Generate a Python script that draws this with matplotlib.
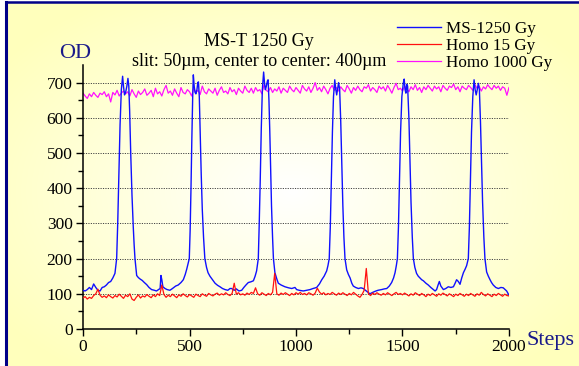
"""
MS-T 1250 Gy optical density scan across the slits,
compared with the two homogeneous irradiations
"""
import numpy as np
import matplotlib

matplotlib.use("Agg")
from matplotlib import pyplot as plt
from matplotlib.lines import Line2D

plt.rcParams["font.family"] = ["Liberation Serif", "DejaVu Serif"]

W, H = 579, 366
NAVY = "#1a1a8a"

# MS-1250 Gy: steps and OD (uneven spacing around the peaks)
MS_STEPS = [
    0, 10, 20, 30, 40, 50, 60, 70, 80, 90, 100, 110, 120, 130, 140, 150, 158,
    163, 168, 174, 180, 186, 190, 195, 200, 206, 211, 215, 219, 224, 230, 236,
    240, 244, 248, 252, 260, 268, 278, 288, 299, 310, 322, 335, 345, 355, 362,
    366, 370, 375, 385, 395, 408, 420, 435, 447, 460, 471, 480, 487, 493,
    499, 503, 507, 511, 515, 518, 522, 526, 530, 535, 539, 542, 546, 550, 555,
    560, 566, 572, 580, 587, 596, 608, 620, 632, 643, 655, 667, 680, 690, 698,
    710, 720, 732, 745, 755, 765, 776, 788, 800, 808, 815,
    823, 827, 832, 837, 842, 848, 852, 856, 860, 866, 869, 873, 877, 881, 885,
    890, 894, 901, 910, 917, 930, 948, 965, 980, 995, 1003, 1015, 1034, 1050,
    1066, 1080, 1097, 1110, 1121, 1132, 1144, 1150,
    1156, 1161, 1166, 1171, 1176, 1182, 1187, 1191, 1195, 1200, 1205, 1210,
    1215, 1220, 1225, 1230, 1238, 1246, 1254, 1262, 1269, 1280, 1293, 1305,
    1316, 1330, 1347, 1360, 1371, 1385, 1402, 1415, 1426, 1438, 1449, 1458,
    1465, 1471,
    1476, 1481, 1486, 1491, 1497, 1504, 1508, 1512, 1516, 1520, 1524, 1530,
    1535, 1540, 1546, 1551, 1558, 1566, 1574, 1582, 1590, 1598, 1610, 1621,
    1633, 1645, 1653, 1660, 1667, 1673, 1680, 1692, 1703, 1715, 1727, 1739,
    1747, 1754, 1762, 1770, 1778, 1786, 1794, 1801, 1805,
    1809, 1814, 1819, 1824, 1830, 1836, 1841, 1846, 1851, 1856, 1861, 1866,
    1871, 1876, 1882, 1887, 1895, 1903, 1911, 1918, 1926, 1938, 1950, 1962,
    1973, 1982, 1989, 1996, 2000,
]
MS_OD = [
    110, 108, 112, 118, 112, 128, 118, 110, 108, 118, 120, 125, 132, 135, 145,
    158, 200, 300, 430, 580, 680, 718, 690, 665, 672, 690, 712, 690, 620, 500,
    380, 290, 240, 200, 175, 152, 146, 142, 138, 132, 126, 118, 112, 110, 108,
    112, 115, 152, 140, 120, 115, 112, 110, 115, 122, 125, 132, 140, 155, 170,
    185,
    200, 280, 400, 540, 660, 722, 690, 672, 668, 680, 700, 702, 660, 560, 440,
    340, 260, 200, 175, 160, 150, 140, 130, 124, 120, 115, 112, 110, 115, 115,
    110, 114, 108, 110, 118, 125, 132, 134, 137, 150, 165,
    200, 290, 420, 570, 680, 730, 700, 680, 688, 705, 708, 650, 560, 450, 350,
    260, 200, 160, 142, 130, 125, 120, 117, 115, 118, 112, 110, 108, 110, 112,
    115, 118, 128, 140, 150, 165, 180,
    200, 290, 420, 560, 660, 708, 680, 665, 680, 700, 680, 590, 470, 350, 260,
    200, 168, 155, 145, 130, 122, 118, 115, 117, 115, 108, 100, 104, 107, 110,
    112, 114, 115, 122, 132, 145, 160, 180,
    200, 290, 420, 560, 660, 700, 710, 680, 670, 695, 690, 600, 480, 360, 260,
    200, 175, 158, 150, 145, 140, 137, 130, 125, 118, 112, 108, 112, 125, 135,
    122, 112, 115, 120, 118, 120, 130, 140, 135, 127, 145, 160, 170, 180, 190,
    200, 290, 420, 560, 660, 708, 680, 665, 680, 698, 680, 590, 470, 360, 260,
    200, 162, 150, 140, 132, 125, 118, 115, 118, 117, 112, 108, 100, 96,
]

# homogeneous films, one reading every 10 steps from 0 to 2000
HOMO_STEPS = list(range(0, 2001, 10))
HOMO15_OD = [
    88, 92, 85, 90, 87, 95, 100, 113, 96, 90, 94,
    89, 97, 92, 88, 95, 91, 99, 93, 87, 96,
    92, 100, 85, 81, 90, 97, 88, 94, 91, 98,
    93, 89, 97, 92, 100, 95, 125, 98, 90, 96,
    92, 99, 94, 89, 97, 93, 100, 95, 91, 98,
    94, 90, 99, 95, 92, 100, 96, 93, 101, 97,
    94, 99, 102, 96, 100, 97, 103, 98, 95, 101,
    130, 99, 103, 97, 100, 96, 102, 98, 104, 101,
    117, 100, 96, 103, 99, 95, 101, 97, 104, 158,
    100, 96, 102, 98, 103, 99, 95, 101, 97, 103,
    99, 104, 98, 101, 97, 103, 100, 96, 102, 116,
    105, 99, 103, 97, 101, 98, 104, 100, 96, 102,
    98, 103, 99, 95, 101, 97, 104, 99, 94, 90,
    98, 110, 172, 100, 95, 102, 98, 103, 99, 96,
    101, 97, 103, 99, 95, 100, 104, 98, 101, 97,
    102, 98, 94, 100, 96, 103, 99, 95, 101, 97,
    92, 99, 95, 101, 97, 93, 100, 96, 102, 98,
    94, 100, 96, 92, 99, 95, 101, 97, 93, 99,
    95, 101, 97, 93, 100, 96, 104, 98, 94, 100,
    96, 92, 99, 95, 101, 97, 93, 99, 95, 94,
]
HOMO1000_OD = [
    670, 662, 655, 668, 660, 672, 664, 658, 670, 666, 674,
    660, 668, 645, 672, 665, 678, 662, 670, 676, 668,
    674, 662, 680, 668, 658, 676, 666, 672, 682, 664,
    670, 678, 660, 684, 668, 674, 662, 680, 692, 670,
    676, 664, 682, 670, 660, 686, 672, 668, 680, 674,
    662, 684, 672, 678, 666, 690, 674, 668, 682, 676,
    670, 684, 664, 678, 688, 672, 676, 668, 686, 674,
    680, 666, 684, 676, 670, 690, 678, 672, 684, 670,
    686, 676, 680, 668, 694, 678, 674, 686, 672, 682,
    676, 688, 670, 684, 678, 672, 690, 680, 674, 686,
    678, 670, 692, 682, 676, 688, 672, 684, 700, 678,
    686, 674, 690, 680, 668, 684, 692, 678, 686, 676,
    688, 680, 674, 692, 682, 670, 686, 678, 690, 680,
    674, 688, 684, 694, 676, 686, 680, 672, 690, 682,
    688, 676, 692, 682, 670, 686, 698, 680, 684, 676,
    690, 682, 674, 688, 680, 694, 678, 686, 672, 688,
    680, 692, 684, 676, 690, 682, 688, 674, 692, 684,
    678, 690, 686, 696, 680, 688, 674, 690, 684, 680,
    692, 686, 678, 694, 684, 690, 676, 688, 682, 694,
    686, 680, 692, 684, 690, 678, 688, 684, 664, 686,
]

X_TICKS = [0, 500, 1000, 1500, 2000]
Y_TICKS = [0, 100, 200, 300, 400, 500, 600, 700]


def draw_background(fig):
    """pale yellow panel, whitening towards the middle, with a navy frame"""
    bg = fig.add_axes([7 / W, 0, 1 - 7 / W, 1 - 2 / H])
    yy, xx = np.mgrid[0:1:200j, 0:1:300j]
    rad = np.clip(np.hypot((xx - 0.5) / 0.62, (yy - 0.52) / 0.62), 0, 1)
    img = np.ones((200, 300, 3))
    img[..., 2] = 1 - 0.26 * rad
    bg.imshow(img, aspect="auto", extent=[0, 1, 0, 1], zorder=0)
    bg.axis("off")
    fig.add_artist(Line2D([6 / W, 6 / W], [0, 1 - 1.5 / H], color="#000088",
                          lw=2.2, transform=fig.transFigure))
    fig.add_artist(Line2D([6 / W, 1], [1 - 1.5 / H, 1 - 1.5 / H],
                          color="#000088", lw=1.8, transform=fig.transFigure))


def main():
    fig = plt.figure(figsize=(W / 100, H / 100), dpi=100)
    draw_background(fig)

    ax = fig.add_axes([83 / W, 1 - 329 / H, 426 / W, 264 / H])
    ax.set_facecolor("none")
    ax.plot(MS_STEPS, MS_OD, color="#1010ff", lw=1.0, label="MS-1250 Gy",
            zorder=3)
    ax.plot(HOMO_STEPS, HOMO15_OD, color="#ff1010", lw=0.9,
            label="Homo 15 Gy", zorder=4)
    ax.plot(HOMO_STEPS, HOMO1000_OD, color="#ff10ff", lw=0.9,
            label="Homo 1000 Gy", zorder=2)

    ax.set_xlim(0, 2000)
    ax.set_ylim(0, 750)
    ax.set_xticks(X_TICKS)
    ax.set_yticks(Y_TICKS)
    ax.set_xticks([250, 750, 1250, 1750], minor=True)
    ax.set_yticks([50, 150, 250, 350, 450, 550, 650], minor=True)
    ax.tick_params(which="major", direction="out", length=5, width=1,
                   labelsize=12.5, colors="black", pad=2.5)
    ax.tick_params(which="minor", direction="out", length=3.5, width=1)
    for side in ("top", "right"):
        ax.spines[side].set_visible(False)
    for side in ("left", "bottom"):
        ax.spines[side].set_linewidth(1.1)
    ax.yaxis.grid(True, which="major", linestyle=(0, (1.2, 1.3)),
                  color="#444444", lw=0.7, zorder=1)

    fig.text(259 / W, 1 - 42 / H, "MS-T 1250 Gy", ha="center", va="center",
             fontsize=13)
    fig.text(259 / W, 1 - 61 / H, "slit: 50µm, center to center: 400µm",
             ha="center", va="center", fontsize=13)
    fig.text(75 / W, 1 - 53 / H, "OD", ha="center", va="center",
             fontsize=16, color=NAVY)
    fig.text(526 / W, 1 - 340 / H, "Steps", ha="left", va="center",
             fontsize=16, color=NAVY)

    ax.legend(loc="upper left", bbox_to_anchor=(397 / W, 1 - 21 / H),
              bbox_transform=fig.transFigure, frameon=False, fontsize=12.3,
              handlelength=2.6, handletextpad=0.25, labelspacing=0.06,
              borderpad=0, borderaxespad=0)

    fig.savefig("out.png", dpi=100)


if __name__ == "__main__":
    main()
